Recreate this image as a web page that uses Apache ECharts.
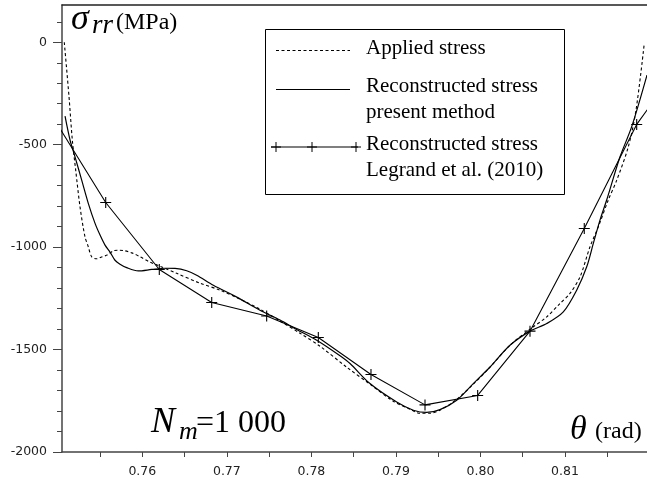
<!DOCTYPE html>
<html><head><meta charset="utf-8">
<script src="https://cdn.jsdelivr.net/npm/echarts@6/dist/echarts.min.js"></script>
<style>html,body{margin:0;padding:0;background:#fff}#c{width:647px;height:483px}</style>
</head><body><div id="c"></div>
<script>
// Axis ticks / labels
const xLabelValues = [0.76, 0.77, 0.78, 0.79, 0.80, 0.81];
const xTickValues = [0.755, 0.76, 0.765, 0.77, 0.775, 0.78, 0.785, 0.79, 0.795, 0.80, 0.805, 0.81, 0.815];
const yLabelValues = [-2000, -1500, -1000, -500, 0];
const yMinorValues = [-1900, -1800, -1700, -1600, -1400, -1300, -1200, -1100, -900, -800, -700, -600, -400, -300, -200, -100, 100];

// Applied stress (dashed)
const appliedTheta = [0.75077,0.75133,0.75172,0.75212,0.75263,0.75322,0.75361,0.75401,0.75461,0.75511,0.75579,0.75657,0.75716,0.75784,0.75875,0.75973,0.76091,0.76209,0.76407,0.76683,0.76919,0.77156,0.77392,0.77629,0.77865,0.78102,0.78418,0.78693,0.78969,0.79167,0.79285,0.79403,0.79521,0.79719,0.79915,0.80113,0.80349,0.80586,0.80784,0.80941,0.81059,0.81178,0.81296,0.81394,0.81512,0.81612,0.81749,0.81840,0.81938];
const appliedStress = [0,-266,-477,-624,-803,-950,-998,-1047,-1057,-1049,-1039,-1018,-1015,-1017,-1028,-1047,-1073,-1093,-1128,-1176,-1210,-1254,-1303,-1361,-1420,-1484,-1586,-1669,-1752,-1791,-1811,-1811,-1796,-1743,-1669,-1586,-1479,-1401,-1340,-1275,-1226,-1145,-998,-901,-770,-673,-510,-331,-5];

// Reconstructed stress, present method (solid)
const presentTheta = [0.75086,0.75145,0.75204,0.75283,0.75361,0.75441,0.75500,0.75559,0.75618,0.75677,0.75736,0.75815,0.75953,0.76111,0.76269,0.76387,0.76525,0.76643,0.76840,0.77117,0.77392,0.77629,0.77826,0.78063,0.78339,0.78457,0.78693,0.79009,0.79206,0.79364,0.79521,0.79719,0.79915,0.80113,0.80349,0.80586,0.80784,0.80980,0.81138,0.81257,0.81335,0.81414,0.81493,0.81651,0.81789,0.81970];
const presentStress = [-361,-477,-559,-673,-786,-884,-941,-990,-1024,-1064,-1083,-1100,-1116,-1109,-1103,-1104,-1115,-1137,-1186,-1244,-1308,-1356,-1402,-1454,-1530,-1568,-1666,-1756,-1796,-1807,-1793,-1747,-1666,-1585,-1479,-1410,-1373,-1316,-1210,-1096,-982,-868,-770,-559,-412,-160];

// Reconstructed stress, Legrand et al. (2010) (first and last points lie outside the plotted range)
const legrandTheta = [0.74939,0.75567,0.76201,0.76821,0.77471,0.78082,0.78705,0.79344,0.79967,0.80586,0.81228,0.81848,0.82476];
const legrandStress = [-363,-782,-1109,-1270,-1336,-1441,-1622,-1770,-1724,-1410,-909,-401,-41];

const X_MIN = 0.7505, X_MAX = 0.8197, Y_MIN = -2000, Y_MAX = 182;
const plusPath = 'path://M4.5,0h1v10h-1zM0,4.5h10v1h-10z';
const serif = '"Liberation Serif", "Times New Roman", serif';
const sans = '"DejaVu Sans", sans-serif';

const chart = echarts.init(document.getElementById('c'));
const legrandData = legrandTheta.map((t, i) => {
  const inside = t >= X_MIN && t <= X_MAX;
  return inside ? [t, legrandStress[i]] : {value: [t, legrandStress[i]], symbol: 'none'};
});

function plus(cx, cy) {
  return [
    {type: 'line', shape: {x1: cx - 5, y1: cy, x2: cx + 5, y2: cy}, style: {stroke: '#000', lineWidth: 1}, z: 11},
    {type: 'line', shape: {x1: cx, y1: cy - 5, x2: cx, y2: cy + 5}, style: {stroke: '#000', lineWidth: 1}, z: 11}
  ];
}

const axisColor = '#444';
chart.setOption({
  animation: false,
  backgroundColor: '#fff',
  grid: {left: 62, right: 0, top: 5, bottom: 31, containLabel: false},
  xAxis: [{
    type: 'value', position: 'bottom', min: X_MIN, max: X_MAX,
    axisLine: {show: true, onZero: false, lineStyle: {color: axisColor, width: 1.5}},
    axisTick: {show: true, inside: false, length: 5, customValues: xTickValues, lineStyle: {color: axisColor}},
    axisLabel: {customValues: xLabelValues, formatter: v => v.toFixed(2), margin: 13,
      fontFamily: sans, fontSize: 12.5, color: '#222'},
    splitLine: {show: false}
  }, {
    type: 'value', position: 'top', min: X_MIN, max: X_MAX,
    axisLine: {show: true, onZero: false, lineStyle: {color: '#222', width: 1.5}},
    axisTick: {show: false}, axisLabel: {show: false}, splitLine: {show: false}
  }],
  yAxis: [{
    type: 'value', position: 'left', min: Y_MIN, max: Y_MAX,
    axisLine: {show: true, onZero: false, lineStyle: {color: axisColor, width: 1.5}},
    axisTick: {show: true, inside: false, length: 9, customValues: yLabelValues, lineStyle: {color: axisColor}},
    axisLabel: {customValues: yLabelValues, margin: 15, formatter: v => String(v),
      fontFamily: sans, fontSize: 12.5, color: '#222'},
    splitLine: {show: false}
  }, {
    type: 'value', position: 'left', min: Y_MIN, max: Y_MAX,
    axisLine: {show: false, onZero: false},
    axisTick: {show: true, inside: false, length: 5, customValues: yMinorValues, lineStyle: {color: axisColor}},
    axisLabel: {show: false}, splitLine: {show: false}
  }],
  series: [{
    name: 'Applied stress', type: 'line', xAxisIndex: 0, yAxisIndex: 0,
    data: appliedTheta.map((t, i) => [t, appliedStress[i]]),
    showSymbol: false, symbol: 'none', smooth: 0.3, clip: true,
    lineStyle: {color: '#000', width: 1.1, type: [3, 2.5]}
  }, {
    name: 'Reconstructed stress present method', type: 'line', xAxisIndex: 0, yAxisIndex: 0,
    data: presentTheta.map((t, i) => [t, presentStress[i]]),
    showSymbol: false, symbol: 'none', smooth: 0.3, clip: true,
    lineStyle: {color: '#000', width: 1.2}
  }, {
    name: 'Reconstructed stress Legrand et al. (2010)', type: 'line', xAxisIndex: 0, yAxisIndex: 0,
    data: legrandData, symbol: plusPath, symbolSize: 11, showSymbol: true, clip: true,
    itemStyle: {color: '#000', borderWidth: 0},
    lineStyle: {color: '#000', width: 1.1}
  }],
  graphic: [
    // axis titles
    {type: 'text', x: 71, y: 20, style: {text: 'σ', font: 'italic 36px ' + serif, fill: '#000', verticalAlign: 'middle'}},
    {type: 'text', x: 92, y: 26, style: {text: 'rr', font: 'italic 27px ' + serif, fill: '#000', verticalAlign: 'middle'}},
    {type: 'text', x: 116, y: 23, style: {text: '(MPa)', font: '24px ' + serif, fill: '#000', verticalAlign: 'middle'}},
    {type: 'text', x: 151, y: 423, style: {text: 'N', font: 'italic 36px ' + serif, fill: '#000', verticalAlign: 'middle'}},
    {type: 'text', x: 179, y: 432, style: {text: 'm', font: 'italic 26px ' + serif, fill: '#000', verticalAlign: 'middle'}},
    {type: 'text', x: 196, y: 424, style: {text: '=1 000', font: '32px ' + serif, fill: '#000', verticalAlign: 'middle'}},
    {type: 'text', x: 570, y: 430, style: {text: 'θ', font: 'italic 34px ' + serif, fill: '#000', verticalAlign: 'middle'}},
    {type: 'text', x: 595, y: 432, style: {text: '(rad)', font: '24px ' + serif, fill: '#000', verticalAlign: 'middle'}},
    // legend
    {type: 'rect', shape: {x: 265.5, y: 29.5, width: 299, height: 165}, style: {fill: '#fff', stroke: '#000', lineWidth: 1}, z: 10},
    {type: 'line', shape: {x1: 276, y1: 50.5, x2: 350, y2: 50.5}, style: {stroke: '#000', lineWidth: 1, lineDash: [3, 2.5]}, z: 11},
    {type: 'line', shape: {x1: 276, y1: 89.5, x2: 350, y2: 89.5}, style: {stroke: '#000', lineWidth: 1.2}, z: 11},
    {type: 'line', shape: {x1: 271, y1: 147, x2: 358, y2: 147}, style: {stroke: '#000', lineWidth: 1.1}, z: 11},
    ...plus(276, 147), ...plus(312, 147), ...plus(356, 147),
    {type: 'text', x: 366, y: 48, z: 11, style: {text: 'Applied stress', font: '21px ' + serif, fill: '#000', verticalAlign: 'middle'}},
    {type: 'text', x: 366, y: 86, z: 11, style: {text: 'Reconstructed stress', font: '21px ' + serif, fill: '#000', verticalAlign: 'middle'}},
    {type: 'text', x: 366, y: 112, z: 11, style: {text: 'present method', font: '21px ' + serif, fill: '#000', verticalAlign: 'middle'}},
    {type: 'text', x: 366, y: 144, z: 11, style: {text: 'Reconstructed stress', font: '21px ' + serif, fill: '#000', verticalAlign: 'middle'}},
    {type: 'text', x: 366, y: 170, z: 11, style: {text: 'Legrand et al. (2010)', font: '21px ' + serif, fill: '#000', verticalAlign: 'middle'}}
  ]
});
</script>
</body></html>
